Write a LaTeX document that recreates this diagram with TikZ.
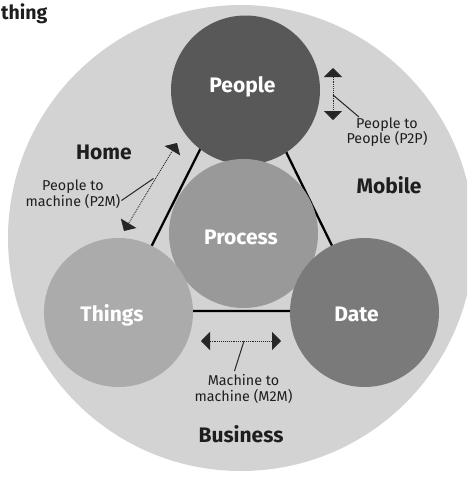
\documentclass[tikz,border=0pt]{standalone}
\usepackage{fontspec}
\setmainfont{Fira Sans}
\usetikzlibrary{arrows.meta}
\definecolor{bigc}{HTML}{D3D3D3}
\definecolor{peoplec}{HTML}{585858}
\definecolor{processc}{HTML}{999999}
\definecolor{thingsc}{HTML}{ABABAB}
\definecolor{datec}{HTML}{7A7A7A}
\definecolor{txtc}{HTML}{1E1E1E}
\tikzset{
  ball/.style={circle, minimum size=149pt, inner sep=0pt, draw=none},
  balltext/.style={text=white, font=\bfseries\fontsize{21}{24}\selectfont, inner sep=0pt, anchor=base},
  zonetext/.style={text=txtc, font=\bfseries\fontsize{21}{24}\selectfont, inner sep=0pt, anchor=base},
  smalltext/.style={text=txtc, font=\fontsize{14.3}{15.5}\selectfont, inner sep=0pt, anchor=base, align=center},
  sideline/.style={line width=2.3pt, black},
  dotarrow/.style={densely dotted, line width=0.9pt, black!85, {Triangle[length=9pt,width=18pt]}-{Triangle[length=9pt,width=18pt]}},
  leader/.style={line width=1pt, black!85},
}
\begin{document}
\begin{tikzpicture}[x=1pt,y=-1pt]
\useasboundingbox (0,0) rectangle (467,477);
\begin{scope}
\clip (0,0) rectangle (467,477);
\fill[bigc] (241,238) circle (233);
\end{scope}
\node[text=txtc, font=\bfseries\fontsize{19.5}{24}\selectfont, inner sep=0pt, anchor=base west] (title) at (1,19) {thing};
% triangle behind circles
\coordinate (apex) at (243,64);
\coordinate (tl) at (119,311);
\coordinate (dr) at (364,311);
\draw[sideline] (apex) -- (tl) -- (dr) -- cycle;
% circles
\node[ball, fill=peoplec] (people) at (245.5,90) {};
\node[ball, fill=processc] (process) at (243.5,233.5) {};
\node[ball, fill=thingsc] (things) at (118.5,312.5) {};
\node[ball, fill=datec] (date) at (364.5,312.5) {};
% circle labels
\node[balltext] (tpeople) at (242.5,92.5) {People};
\node[balltext] (tprocess) at (241,244) {Process};
\node[balltext] (tthings) at (112,321.5) {Things};
\node[balltext] (tdate) at (356.5,321.5) {Date};
% zone labels
\node[zonetext] (home) at (104,159) {Home};
\node[zonetext] (mobile) at (389,193) {Mobile};
\node[zonetext] (business) at (241,442.5) {Business};
% P2P
\coordinate (p2pa) at (333,68);
\coordinate (p2pb) at (333,120);
\draw[dotarrow] (p2pa) -- (p2pb);
\node[smalltext] (p2p) at (387,143.5) {People to\\People (P2P)};
\coordinate (p2pm) at (333,95);
\coordinate (p2pl) at (359,117);
\draw[leader] (p2pm) -- (p2pl);
% P2M
\coordinate (p2ma) at (177,143);
\coordinate (p2mb) at (124,231);
\draw[dotarrow] (p2ma) -- (p2mb);
\node[smalltext] (p2m) at (73,206) {People to\\machine (P2M)};
\coordinate (p2mm) at (153.5,178.5);
\coordinate (p2ml) at (121.5,200.5);
\draw[leader] (p2mm) -- (p2ml);
% M2M
\coordinate (m2ma) at (201,341);
\coordinate (m2mb) at (281,341);
\draw[dotarrow] (m2ma) -- (m2mb);
\node[smalltext] (m2m) at (243.5,401) {Machine to\\machine (M2M)};
\coordinate (m2mm) at (244,341);
\coordinate (m2ml) at (234.5,371);
\draw[leader] (m2mm) -- (m2ml);
\end{tikzpicture}
\end{document}
